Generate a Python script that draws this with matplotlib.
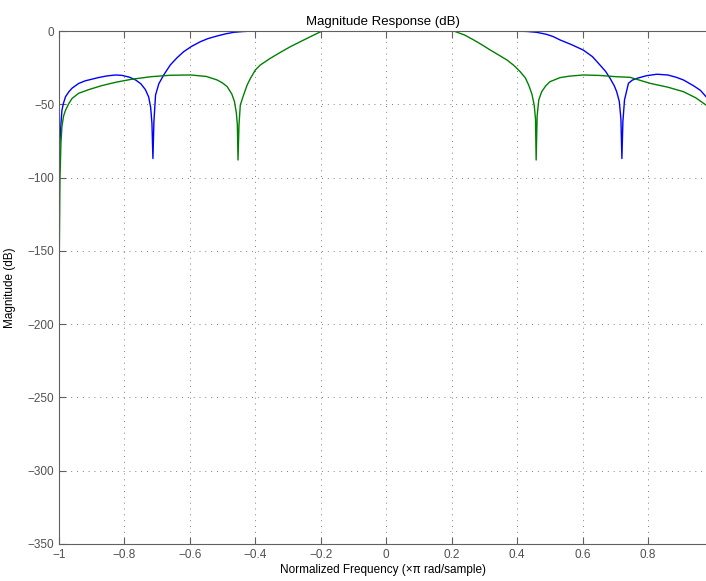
import matplotlib
matplotlib.use('Agg')
import matplotlib.pyplot as plt

plt.rcParams['font.family'] = ['Liberation Sans', 'DejaVu Sans']

# filter 1 (blue)
blue_f = [-1.0, -0.997, -0.994, -0.991, -0.986, -0.98, -0.97, -0.96, -0.94, -0.92, -0.909,
          -0.88, -0.855, -0.827, -0.807, -0.785, -0.766, -0.75, -0.736, -0.726, -0.72,
          -0.716, -0.713, -0.710, -0.705, -0.695, -0.68, -0.66, -0.64, -0.619, -0.595,
          -0.568, -0.545, -0.517, -0.49, -0.466, -0.44, -0.415, -0.4, -0.3, -0.2, 0.0, 0.2,
          0.3, 0.4, 0.43, 0.46, 0.49, 0.51, 0.531, 0.565, 0.602, 0.63, 0.653, 0.67, 0.684,
          0.697, 0.704, 0.712, 0.717, 0.72, 0.723, 0.728, 0.74, 0.752, 0.766, 0.795, 0.827,
          0.86, 0.885, 0.908, 0.94, 0.96, 0.977]
blue_db = [-90, -75, -63, -54, -49, -44.8, -41.5, -39, -35.8, -34, -33.4,
           -31.8, -30.7, -30, -30.3, -31.5, -33.4, -36, -40, -45, -52,
           -63, -87, -62, -43.7, -36, -30, -23.2, -18.4, -14.1, -10.5,
           -7.3, -5.2, -3.4, -1.9, -0.9, -0.4, -0.1, 0, 0, 0, 0, 0,
           0, -0.1, -0.3, -0.9, -2.3, -3.8, -6.1, -9.2, -13, -17.5, -23.2, -27.5, -32.3,
           -37.5, -41.4, -48, -60, -87, -62, -47, -35.7, -33.5, -32.3, -30.5, -29.5,
           -30, -31.5, -33.4, -37.5, -40.5, -44.8]

# filter 2 (green)
green_f = [-1.0, -0.999, -0.997, -0.994, -0.991, -0.986, -0.98, -0.97, -0.96, -0.94,
           -0.909, -0.87, -0.827, -0.78, -0.72, -0.66, -0.598, -0.55, -0.517, -0.5,
           -0.486, -0.472, -0.464, -0.458, -0.455, -0.453, -0.45, -0.446, -0.436, -0.425,
           -0.415, -0.4, -0.385, -0.354, -0.323, -0.293, -0.26, -0.232, -0.196, 0.0, 0.206,
           0.24, 0.267, 0.293, 0.318, 0.343, 0.369, 0.39, 0.409, 0.425, 0.435, 0.445, 0.452,
           0.456, 0.458, 0.461, 0.466, 0.475, 0.487, 0.5, 0.531, 0.56, 0.602, 0.65, 0.704,
           0.745, 0.806, 0.86, 0.908, 0.945, 0.977]
green_db = [-329, -150, -100, -76, -65, -58, -54, -49.5, -46, -42.5,
            -40, -37.3, -35, -33, -31.2, -30.2, -30, -31, -33.4, -35.5,
            -38, -43, -48, -56, -64, -88, -64, -50.5, -43.7, -36.8,
            -32.3, -26.6, -23.2, -18.6, -14.5, -10.7, -7, -3.9, 0, 0, 0,
            -2.8, -6.1, -9.5, -13, -16.3, -19.8, -23.5, -27.7, -32, -36.8, -43, -50.5,
            -60, -88, -58, -47, -41.4, -37.5, -34.6, -31.8, -30.8, -30, -30.3, -31.2,
            -31.6, -35.7, -38.3, -41.4, -45.5, -50.5]

xticks = [-1, -0.8, -0.6, -0.4, -0.2, 0, 0.2, 0.4, 0.6, 0.8]
xtick_labels = ['\u22121', '\u22120.8', '\u22120.6', '\u22120.4', '\u22120.2', '0',
                '0.2', '0.4', '0.6', '0.8']
yticks = [-350, -300, -250, -200, -150, -100, -50, 0]
ytick_labels = ['\u2212350', '\u2212300', '\u2212250', '\u2212200', '\u2212150',
                '\u2212100', '\u221250', '0']

fig = plt.figure(figsize=(7.06, 5.81), dpi=100, facecolor='white')
ax = fig.add_axes([59 / 706, 37 / 581, 1 - 59 / 706, 513 / 581])

ax.plot(blue_f, blue_db, color='#0000ff', lw=1.0)
ax.plot(green_f, green_db, color='#008000', lw=1.0)

ax.set_xlim(-1, 0.977)
ax.set_ylim(-350, 0)
ax.set_xticks(xticks)
ax.set_xticklabels(xtick_labels)
ax.set_yticks(yticks)
ax.set_yticklabels(ytick_labels)

ax.grid(True, linestyle=(0, (1, 5)), color='#808080', lw=0.7)
ax.tick_params(direction='in', length=5, color='#606060', labelcolor='#505050',
               labelsize=8.5, top=True, right=False)
for side in ['left', 'bottom', 'top']:
    ax.spines[side].set_color('#606060')
ax.spines['right'].set_visible(False)

ax.set_title('Magnitude Response (dB)', fontsize=9.5, pad=4)
ax.set_xlabel('Normalized Frequency (\u00d7\u03c0 rad/sample)', fontsize=8.5, labelpad=2)
ax.set_ylabel('Magnitude (dB)', fontsize=8.5, labelpad=8)

fig.savefig('out.png', dpi=100)
